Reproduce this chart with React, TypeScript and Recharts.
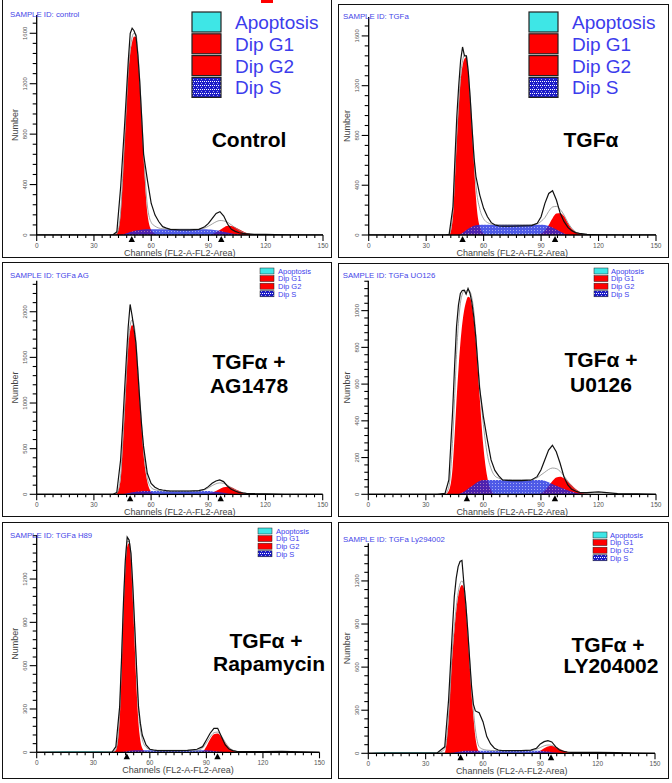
import { Area, ComposedChart, Line, ReferenceDot, XAxis, YAxis } from "recharts";

// channel grid shared by every histogram
const CH = [0, 10, 20, 30, 36, 40, 42, 44, 45, 46, 47, 48, 49, 50, 51, 52, 53, 54, 55, 56, 58, 60, 62, 64, 66, 68, 70, 75, 80, 85, 88, 90, 92, 94, 96, 98, 100, 102, 104, 106, 108, 110, 114, 120, 130, 140, 150];

const X_MAJOR = [0, 30, 60, 90, 120, 150];
const X_MINOR_PER_MAJOR = 7;
const LEGEND_LABELS = ["Apoptosis", "Dip G1", "Dip G2", "Dip S"];

// Control
const P1_DATA = [0, 0, 0, 0, 0, 2, 25, 383, 620, 858, 1120, 1385, 1600, 1640, 1620, 1580, 1430, 1210, 930, 640, 435, 250, 158, 105, 66, 55, 45, 40, 40, 45, 66, 92, 132, 171, 185, 150, 87, 45, 29, 18, 13, 10, 5, 5, 1, 0, 0];
const P1_FIT = [0, 0, 0, 0, 0, 0, 12, 190, 450, 740, 1020, 1300, 1470, 1570, 1600, 1595, 1450, 1230, 950, 660, 230, 100, 70, 55, 50, 48, 46, 46, 46, 47, 55, 70, 88, 105, 115, 112, 100, 80, 58, 38, 22, 12, 3, 0, 0, 0, 0];
const P1_G1 = [0, 0, 0, 0, 0, 0, 10, 170, 420, 725, 1000, 1280, 1440, 1530, 1575, 1570, 1420, 1200, 920, 620, 170, 40, 10, 0, 0, 0, 0, 0, 0, 0, 0, 0, 0, 0, 0, 0, 0, 0, 0, 0, 0, 0, 0, 0, 0, 0, 0];
const P1_G2 = [0, 0, 0, 0, 0, 0, 0, 0, 0, 0, 0, 0, 0, 0, 0, 0, 0, 0, 0, 0, 0, 0, 0, 0, 0, 0, 0, 0, 0, 0, 0, 2, 8, 22, 40, 60, 74, 72, 62, 46, 30, 16, 3, 0, 0, 0, 0];
const P1_S = [0, 0, 0, 0, 0, 0, 0, 0, 4, 8, 13, 18, 23, 28, 32, 36, 38, 40, 42, 43, 45, 45, 45, 45, 45, 45, 45, 45, 45, 45, 45, 44, 42, 38, 33, 26, 20, 14, 8, 4, 1, 0, 0, 0, 0, 0, 0];
const P1_MARKS = [49.8, 96.7];

// TGFa
const P2_DATA = [0, 0, 0, 0, 0, 0, 5, 227, 600, 950, 1200, 1404, 1511, 1440, 1440, 1310, 1100, 850, 620, 470, 321, 214, 147, 99, 80, 74, 72, 72, 74, 76, 94, 147, 254, 334, 356, 281, 174, 107, 61, 35, 19, 13, 5, 2, 0, 0, 0];
const P2_FIT = [0, 0, 0, 0, 0, 0, 5, 200, 500, 800, 1060, 1280, 1400, 1445, 1440, 1320, 1100, 860, 620, 400, 210, 130, 100, 88, 84, 82, 82, 82, 82, 84, 90, 110, 140, 190, 225, 230, 205, 160, 100, 55, 25, 10, 3, 0, 0, 0, 0];
const P2_G1 = [0, 0, 0, 0, 0, 0, 0, 147, 450, 762, 1030, 1243, 1360, 1417, 1430, 1300, 1090, 830, 560, 300, 67, 13, 0, 0, 0, 0, 0, 0, 0, 0, 0, 0, 0, 0, 0, 0, 0, 0, 0, 0, 0, 0, 0, 0, 0, 0, 0];
const P2_G2 = [0, 0, 0, 0, 0, 0, 0, 0, 0, 0, 0, 0, 0, 0, 0, 0, 0, 0, 0, 0, 0, 0, 0, 0, 0, 0, 0, 0, 0, 0, 3, 12, 35, 80, 135, 172, 175, 150, 95, 50, 25, 10, 2, 0, 0, 0, 0];
const P2_S = [0, 0, 0, 0, 0, 0, 0, 0, 0, 0, 3, 8, 18, 28, 40, 50, 60, 68, 74, 78, 82, 82, 82, 82, 82, 82, 82, 82, 82, 82, 82, 82, 80, 72, 60, 44, 28, 12, 3, 0, 0, 0, 0, 0, 0, 0, 0];
const P2_MARKS = [49, 97.3];

// TGFa + AG1478
const P3_DATA = [0, 0, 0, 0, 0, 0, 20, 376, 720, 1106, 1480, 1836, 2080, 1960, 1820, 1660, 1360, 1040, 760, 530, 230, 120, 77, 55, 47, 40, 36, 36, 36, 40, 55, 84, 120, 146, 157, 139, 91, 55, 36, 22, 15, 11, 7, 4, 0, 0, 0];
const P3_FIT = [0, 0, 0, 0, 0, 0, 12, 200, 520, 900, 1300, 1650, 1850, 1910, 1860, 1700, 1400, 1080, 780, 500, 180, 75, 50, 42, 38, 37, 36, 36, 36, 38, 50, 70, 95, 115, 125, 120, 100, 75, 50, 30, 16, 8, 2, 0, 0, 0, 0];
const P3_G1 = [0, 0, 0, 0, 0, 0, 10, 157, 480, 850, 1250, 1617, 1790, 1854, 1800, 1653, 1350, 1033, 740, 449, 139, 29, 0, 0, 0, 0, 0, 0, 0, 0, 0, 0, 0, 0, 0, 0, 0, 0, 0, 0, 0, 0, 0, 0, 0, 0, 0];
const P3_G2 = [0, 0, 0, 0, 0, 0, 0, 0, 0, 0, 0, 0, 0, 0, 0, 0, 0, 0, 0, 0, 0, 0, 0, 0, 0, 0, 0, 0, 0, 0, 0, 5, 16, 35, 58, 78, 84, 76, 58, 38, 20, 8, 1, 0, 0, 0, 0];
const P3_S = [0, 0, 0, 0, 0, 0, 0, 0, 3, 6, 10, 14, 18, 22, 25, 28, 30, 32, 34, 35, 36, 36, 36, 36, 36, 36, 36, 36, 36, 36, 36, 35, 32, 28, 22, 16, 10, 6, 3, 1, 0, 0, 0, 0, 0, 0, 0];
const P3_MARKS = [49, 96.5];

// TGFa + U0126
const P4_DATA = [0, 0, 0, 0, 0, 5, 78, 459, 700, 913, 1030, 1094, 1110, 1112, 1090, 1121, 1095, 1045, 965, 860, 580, 423, 300, 187, 130, 100, 78, 74, 74, 78, 96, 132, 187, 241, 267, 232, 169, 96, 51, 27, 18, 11, 9, 13, 4, 2, 0];
const P4_FIT = [0, 0, 0, 0, 0, 2, 40, 300, 520, 760, 930, 1040, 1090, 1110, 1105, 1115, 1105, 1070, 1000, 880, 600, 380, 220, 140, 100, 88, 80, 80, 80, 80, 90, 105, 120, 135, 143, 140, 125, 100, 72, 45, 25, 12, 3, 0, 0, 0, 0];
const P4_G1 = [0, 0, 0, 0, 0, 0, 20, 151, 320, 514, 680, 822, 930, 1004, 1050, 1076, 1070, 1030, 950, 840, 540, 260, 96, 24, 0, 0, 0, 0, 0, 0, 0, 0, 0, 0, 0, 0, 0, 0, 0, 0, 0, 0, 0, 0, 0, 0, 0];
const P4_G2 = [0, 0, 0, 0, 0, 0, 0, 0, 0, 0, 0, 0, 0, 0, 0, 0, 0, 0, 0, 0, 0, 0, 0, 0, 0, 0, 0, 0, 0, 0, 0, 6, 20, 45, 72, 92, 96, 88, 70, 50, 30, 15, 3, 0, 0, 0, 0];
const P4_S = [0, 0, 0, 0, 0, 0, 0, 0, 0, 0, 2, 5, 10, 15, 22, 30, 38, 45, 52, 60, 72, 78, 78, 78, 78, 78, 78, 78, 78, 78, 78, 78, 74, 66, 56, 46, 38, 30, 22, 15, 9, 5, 1, 0, 0, 0, 0];
const P4_MARKS = [51.4, 97.3];

// TGFa + Rapamycin
const P5_DATA = [0, 0, 0, 0, 0, 2, 39, 316, 650, 1032, 1330, 1490, 1470, 1378, 1150, 870, 580, 316, 200, 120, 51, 21, 16, 12, 12, 12, 12, 12, 14, 21, 39, 85, 132, 166, 166, 108, 51, 23, 12, 7, 5, 5, 5, 4, 6, 3, 0];
const P5_FIT = [0, 0, 0, 0, 0, 0, 20, 280, 620, 1000, 1300, 1460, 1460, 1360, 1100, 840, 540, 290, 160, 90, 35, 20, 16, 14, 14, 14, 14, 14, 14, 14, 30, 65, 105, 135, 140, 112, 70, 35, 15, 7, 4, 3, 3, 3, 3, 2, 0];
const P5_G1 = [0, 0, 0, 0, 0, 0, 15, 224, 560, 962, 1260, 1424, 1447, 1332, 1060, 732, 430, 201, 80, 28, 0, 0, 0, 0, 0, 0, 0, 0, 0, 0, 0, 0, 0, 0, 0, 0, 0, 0, 0, 0, 0, 0, 0, 0, 0, 0, 0];
const P5_G2 = [0, 0, 0, 0, 0, 0, 0, 0, 0, 0, 0, 0, 0, 0, 0, 0, 0, 0, 0, 0, 0, 0, 0, 0, 0, 0, 0, 0, 0, 0, 5, 40, 90, 125, 130, 105, 65, 30, 12, 4, 0, 0, 0, 0, 0, 0, 0];
const P5_S = [0, 0, 0, 0, 0, 0, 0, 0, 2, 4, 6, 8, 10, 12, 13, 14, 15, 15, 15, 15, 15, 15, 15, 15, 15, 15, 15, 15, 15, 15, 15, 14, 12, 9, 6, 3, 1, 0, 0, 0, 0, 0, 0, 0, 0, 0, 0];
const P5_APOP = [0, 6, 7, 7, 6, 4, 0, 0, 0, 0, 0, 0, 0, 0, 0, 0, 0, 0, 0, 0, 0, 0, 0, 0, 0, 0, 0, 0, 0, 0, 0, 0, 0, 0, 0, 0, 0, 0, 0, 0, 0, 0, 0, 0, 0, 0, 0];
const P5_MARKS = [47.8, 95.9];

// TGFa + LY204002
const P6_DATA = [0, 1, 2, 1, 3, 45, 371, 859, 1091, 1219, 1300, 1335, 1342, 1184, 1040, 860, 660, 470, 340, 295, 283, 220, 116, 65, 35, 23, 19, 19, 19, 22, 35, 65, 81, 88, 79, 46, 23, 14, 9, 7, 7, 7, 7, 7, 5, 2, 0];
const P6_FIT = [0, 0, 0, 0, 2, 30, 260, 720, 880, 1020, 1120, 1180, 1200, 1170, 1050, 870, 660, 450, 300, 170, 45, 28, 22, 20, 19, 19, 19, 19, 19, 19, 28, 40, 52, 58, 55, 42, 28, 16, 8, 4, 3, 2, 1, 0, 0, 0, 0];
const P6_G1 = [0, 0, 0, 0, 0, 5, 232, 690, 850, 990, 1090, 1150, 1172, 1149, 1021, 836, 627, 418, 255, 116, 12, 0, 0, 0, 0, 0, 0, 0, 0, 0, 0, 0, 0, 0, 0, 0, 0, 0, 0, 0, 0, 0, 0, 0, 0, 0, 0];
const P6_G2 = [0, 0, 0, 0, 0, 0, 0, 0, 0, 0, 0, 0, 0, 0, 0, 0, 0, 0, 0, 0, 0, 0, 0, 0, 0, 0, 0, 0, 0, 0, 5, 18, 35, 48, 50, 44, 32, 20, 10, 4, 1, 0, 0, 0, 0, 0, 0];
const P6_S = [0, 0, 0, 0, 0, 0, 0, 4, 6, 9, 11, 13, 15, 16, 17, 18, 18, 18, 18, 18, 18, 18, 18, 18, 18, 18, 18, 18, 18, 18, 18, 17, 15, 12, 8, 5, 2, 0, 0, 0, 0, 0, 0, 0, 0, 0, 0];
const P6_APOP = [0, 7, 8, 7, 6, 4, 0, 0, 0, 0, 0, 0, 0, 0, 0, 0, 0, 0, 0, 0, 0, 0, 0, 0, 0, 0, 0, 0, 0, 0, 0, 0, 0, 0, 0, 0, 0, 0, 0, 0, 0, 0, 0, 0, 0, 0, 0];
const P6_MARKS = [48.3, 95.6];

const Y_MAJOR_1600 = [0, 400, 800, 1200, 1600];
const Y_MAJOR_2000 = [0, 500, 1000, 1500, 2000];
const Y_MAJOR_1000 = [0, 200, 400, 600, 800, 1000];
const Y_MAJOR_1200 = [0, 300, 600, 900, 1200];

type PanelDef = {
  sample: string;
  title: string[];
  data: number[];
  fit: number[];
  g1: number[];
  g2: number[];
  s: number[];
  apop?: number[];
  marks: number[];
  yMajor: number[];
  yMinor: number;
  yMax: number;
};

const PANELS: PanelDef[] = [
  { sample: "SAMPLE ID: control", title: ["Control"], data: P1_DATA, fit: P1_FIT, g1: P1_G1, g2: P1_G2, s: P1_S, marks: P1_MARKS, yMajor: Y_MAJOR_1600, yMinor: 80, yMax: 1745 },
  { sample: "SAMPLE ID: TGFa", title: ["TGFα"], data: P2_DATA, fit: P2_FIT, g1: P2_G1, g2: P2_G2, s: P2_S, marks: P2_MARKS, yMajor: Y_MAJOR_1600, yMinor: 80, yMax: 1752 },
  { sample: "SAMPLE ID: TGFa AG", title: ["TGFα +", "AG1478"], data: P3_DATA, fit: P3_FIT, g1: P3_G1, g2: P3_G2, s: P3_S, marks: P3_MARKS, yMajor: Y_MAJOR_2000, yMinor: 100, yMax: 2340 },
  { sample: "SAMPLE ID: TGFa UO126", title: ["TGFα +", "U0126"], data: P4_DATA, fit: P4_FIT, g1: P4_G1, g2: P4_G2, s: P4_S, marks: P4_MARKS, yMajor: Y_MAJOR_1000, yMinor: 40, yMax: 1163 },
  { sample: "SAMPLE ID: TGFa H89", title: ["TGFα +", "Rapamycin"], data: P5_DATA, fit: P5_FIT, g1: P5_G1, g2: P5_G2, s: P5_S, apop: P5_APOP, marks: P5_MARKS, yMajor: Y_MAJOR_1200, yMinor: 60, yMax: 1505 },
  { sample: "SAMPLE ID: TGFa Ly294002", title: ["TGFα +", "LY204002"], data: P6_DATA, fit: P6_FIT, g1: P6_G1, g2: P6_G2, s: P6_S, apop: P6_APOP, marks: P6_MARKS, yMajor: Y_MAJOR_1200, yMinor: 60, yMax: 1462 },
];

// page layout, in pixels
const LAYOUT = [
  { box: [2, -1, 330, 259], plot: [36.7, 323, 15, 235], sampleAt: [10, 16.5], legend: [192, 12, 235], big: true, titleX: [249], titleY: [147] },
  { box: [338, 4, 331, 254], plot: [368.7, 656, 17, 235], sampleAt: [343, 19], legend: [529, 12, 572], big: true, titleX: [591], titleY: [147] },
  { box: [2, 262, 330, 255], plot: [36.7, 322.7, 280.7, 494.3], sampleAt: [10, 278.3], legend: [260, 268, 278], big: false, titleX: [249, 249], titleY: [369, 393] },
  { box: [338, 263, 331, 254], plot: [368.3, 656, 280.7, 494.3], sampleAt: [342.7, 278.3], legend: [594, 268, 611], big: false, titleX: [601, 601], titleY: [367, 392] },
  { box: [2, 522, 330, 257], plot: [36.7, 319.5, 535, 752.3], sampleAt: [10, 538.3], legend: [258, 528, 276], big: false, titleX: [266, 269], titleY: [648, 671] },
  { box: [338, 522, 331, 257], plot: [368.3, 655, 543.3, 753.3], sampleAt: [343, 541.7], legend: [593, 532, 610], big: false, titleX: [608, 611], titleY: [652, 673] },
];

const FONT = "'Liberation Sans', Arial, sans-serif";
const BLUE_TEXT = "#3c3cec";
const LEGEND_FILLS = ["#3ee6e6", "#ff0000", "#ff0000", "url(#legendS)"];

function xTicks() {
  const out: number[] = [];
  const step = 30 / X_MINOR_PER_MAJOR;
  for (let k = 0; k <= 5 * X_MINOR_PER_MAJOR; k++) out.push(Math.round(k * step * 1000) / 1000);
  return out;
}

function yTicks(max: number, step: number) {
  const out: number[] = [];
  for (let v = 0; v <= max; v += step) out.push(v);
  return out;
}

function XTick(props: any) {
  const { x, y, payload } = props;
  const v = payload.value;
  const major = X_MAJOR.includes(v);
  return (
    <g>
      <line x1={x} x2={x} y1={y} y2={y + (major ? 6 : 3)} stroke="#000" strokeWidth={1.1} />
      {major && (
        <text x={x} y={y + 13} textAnchor="middle" fontSize={6.5} fill="#555" fontFamily={FONT}>
          {Math.round(v)}
        </text>
      )}
    </g>
  );
}

function YTick(props: any) {
  const { x, y, payload, majors } = props;
  const v = payload.value;
  const major = majors.includes(v);
  const tx = x - 9.5;
  return (
    <g>
      <line x1={x} x2={x - (major ? 7 : 4)} y1={y} y2={y} stroke="#000" strokeWidth={1.1} />
      {major && (
        <text x={tx} y={y} transform={`rotate(-90, ${tx}, ${y})`} textAnchor="middle" fontSize={6} fill="#555" fontFamily={FONT}>
          {v}
        </text>
      )}
    </g>
  );
}

function Triangle(props: any) {
  const { cx, cy } = props;
  return <path d={`M${cx},${cy + 1} L${cx - 3.2},${cy + 7} L${cx + 3.2},${cy + 7} Z`} fill="#000" />;
}

function Panel({ p, l, idx }: { p: PanelDef; l: (typeof LAYOUT)[number]; idx: number }) {
  const [L, T, W, H] = l.box;
  const [x0, x1, yTop, y0] = l.plot;
  const rows = CH.map((ch, i) => ({
    ch,
    data: p.data[i],
    fit: p.fit[i],
    g1: p.g1[i],
    g2: p.g2[i],
    s: p.s[i],
    apop: p.apop ? p.apop[i] : 0,
  }));
  const patId = `sPat${idx}`;
  return (
    <div style={{ position: "absolute", left: L, top: T, width: W, height: H }}>
      <ComposedChart
        width={W}
        height={H}
        data={rows}
        margin={{ left: x0 - L - 1, right: L + W - x1, top: yTop - T, bottom: T + H - y0 - 1 }}
      >
        <defs>
          <pattern id={patId} width="3" height="3" patternUnits="userSpaceOnUse">
            <rect width="3" height="3" fill="#1c2ce0" />
            <rect x="1" y="1" width="1" height="1" fill="#ffffff" fillOpacity={0.5} />
          </pattern>
        </defs>
        <Area type="monotone" dataKey="g1" stroke="none" fill="#ff0000" fillOpacity={1} isAnimationActive={false} />
        <Area type="monotone" dataKey="g2" stroke="none" fill="#ff0000" fillOpacity={1} isAnimationActive={false} />
        <Area type="monotone" dataKey="s" stroke="none" fill={`url(#${patId})`} fillOpacity={0.78} isAnimationActive={false} />
        {p.apop && (
          <Area type="monotone" dataKey="apop" stroke="none" fill="#44dede" fillOpacity={1} isAnimationActive={false} />
        )}
        <Line type="monotone" dataKey="fit" stroke="#8c8c8c" strokeWidth={0.8} dot={false} isAnimationActive={false} />
        <Line type="linear" dataKey="data" stroke="#111" strokeWidth={1.2} dot={false} isAnimationActive={false} />
        <XAxis
          dataKey="ch"
          type="number"
          domain={[0, 150]}
          ticks={xTicks()}
          interval={0}
          height={1}
          tickSize={0}
          tickMargin={0}
          tickLine={false}
          axisLine={{ stroke: "#000", strokeWidth: 1.3 }}
          tick={(tp: any) => <XTick {...tp} />}
        />
        <YAxis
          type="number"
          domain={[0, p.yMax]}
          allowDataOverflow
          ticks={yTicks(p.yMax, p.yMinor)}
          interval={0}
          width={1}
          tickSize={0}
          tickMargin={0}
          tickLine={false}
          axisLine={{ stroke: "#000", strokeWidth: 1.3 }}
          tick={(tp: any) => <YTick {...tp} majors={p.yMajor} />}
        />
        {p.marks.map((m) => (
          <ReferenceDot key={m} x={m} y={0} r={0} ifOverflow="visible" shape={(sp: any) => <Triangle {...sp} />} />
        ))}
      </ComposedChart>
    </div>
  );
}

function Overlay() {
  return (
    <svg width={672} height={783} style={{ position: "absolute", left: 0, top: 0, pointerEvents: "none" }} fontFamily={FONT}>
      <defs>
        <pattern id="legendS" width="4" height="4" patternUnits="userSpaceOnUse">
          <rect width="4" height="4" fill="#1c1cc8" />
          <rect x="0" y="1" width="1" height="1" fill="#ffffff" />
          <rect x="2" y="1" width="1" height="1" fill="#ffffff" />
          <rect x="1" y="3" width="1" height="1" fill="#ffffff" fillOpacity={0.6} />
        </pattern>
      </defs>
      <rect x={261} y={0} width={12} height={3} fill="#ff0000" />
      {LAYOUT.map((l, i) => {
        const p = PANELS[i];
        const [x0, x1, yTop, y0] = l.plot;
        const [bx, by, tx] = l.legend;
        const rowH = l.big ? 21.8 : 7.6;
        const boxW = l.big ? 29 : 14;
        const boxH = l.big ? 20 : 6;
        const fs = l.big ? 19 : 7.5;
        const baseOff = l.big ? 17 : 5.8;
        const ny = (yTop + y0) / 2;
        const nx = x0 - 18.5;
        return (
          <g key={i}>
            <text x={l.sampleAt[0]} y={l.sampleAt[1]} fontSize={7.8} fill="#4646e8">
              {p.sample}
            </text>
            {LEGEND_LABELS.map((lab, k) => (
              <g key={lab}>
                <rect
                  x={bx}
                  y={by + k * rowH}
                  width={boxW}
                  height={boxH}
                  fill={LEGEND_FILLS[k]}
                  stroke="#222"
                  strokeWidth={l.big ? 1.2 : 0.5}
                />
                <text x={tx} y={by + k * rowH + baseOff} fontSize={fs} fill={BLUE_TEXT}>
                  {lab}
                </text>
              </g>
            ))}
            {p.title.map((line, k) => (
              <text key={k} x={l.titleX[k]} y={l.titleY[k]} textAnchor="middle" fontSize={21} fontWeight="bold" fill="#000">
                {line}
              </text>
            ))}
            <text x={(x0 + x1) / 2} y={y0 + 20.5} textAnchor="middle" fontSize={9} fill="#444">
              Channels (FL2-A-FL2-Area)
            </text>
            <text x={nx} y={ny} transform={`rotate(-90, ${nx}, ${ny})`} textAnchor="middle" fontSize={9} fill="#444">
              Number
            </text>
          </g>
        );
      })}
    </svg>
  );
}

export default function App() {
  return (
    <div style={{ position: "absolute", left: 0, top: 0, width: 672, height: 783, background: "#fff", fontFamily: FONT, overflow: "hidden" }}>
      {PANELS.map((p, i) => (
        <Panel key={i} p={p} l={LAYOUT[i]} idx={i} />
      ))}
      {LAYOUT.map((l, i) => (
        <div
          key={`b${i}`}
          style={{
            position: "absolute",
            left: l.box[0],
            top: l.box[1],
            width: l.box[2],
            height: l.box[3],
            border: "1.5px solid #111",
            boxSizing: "border-box",
          }}
        />
      ))}
      <Overlay />
    </div>
  );
}
